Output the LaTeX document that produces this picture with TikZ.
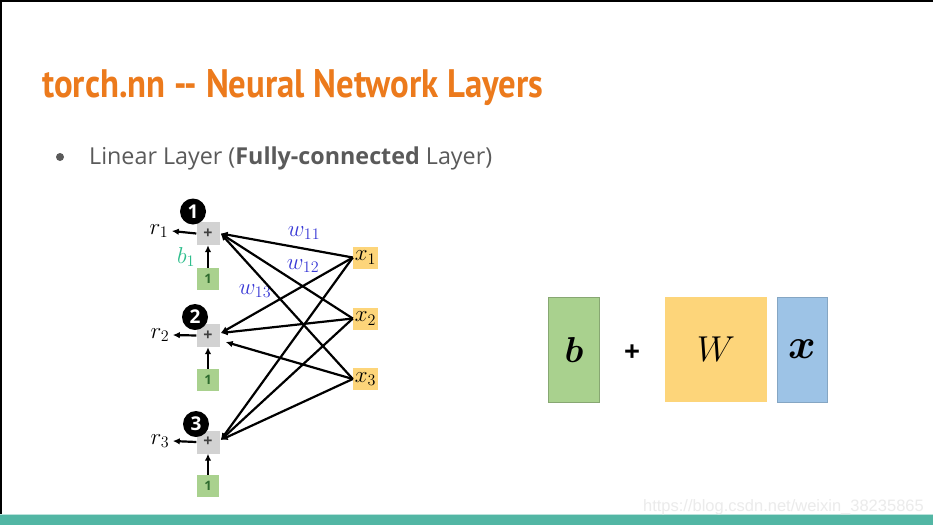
\RequirePackage{fix-cm}
\documentclass[tikz,border=0pt]{standalone}
\usepackage{amsmath}
\usepackage{bm}
\usepackage{fontspec}
\usepackage{graphicx}
\setmainfont{Open Sans}
\newfontfamily\titlefont{PT Sans}
\newfontfamily\wmfont{Liberation Sans}
\usetikzlibrary{arrows.meta}
\definecolor{titleor}{HTML}{EC7A1C}
\definecolor{bodygray}{HTML}{5A5A5A}
\definecolor{boxgray}{HTML}{D2D2D2}
\definecolor{lgreen}{HTML}{A9D18E}
\definecolor{dgreen}{HTML}{2E6B2E}
\definecolor{bgreen}{HTML}{2DBE8C}
\definecolor{lyellow}{HTML}{FDD57A}
\definecolor{lblue}{HTML}{9DC3E6}
\definecolor{wblue}{HTML}{3A3AD6}
\definecolor{tealbar}{HTML}{52B6A4}
\tikzset{
  numcirc/.style={circle,fill=black,text=white,minimum size=26pt,inner sep=0pt,font=\bfseries\fontsize{19}{19}\selectfont},
  plusbox/.style={fill=boxgray,minimum width=23pt,minimum height=23pt,inner sep=0pt,text=black!75,font=\bfseries\fontsize{16}{16}\selectfont},
  onebox/.style={fill=lgreen,minimum width=22pt,minimum height=22pt,inner sep=0pt,text=dgreen,font=\bfseries\fontsize{13}{13}\selectfont},
  xbox/.style={fill=lyellow,minimum width=25pt,minimum height=22pt,inner sep=0pt,font=\fontsize{23}{23}\selectfont},
  edge/.style={line width=2.2pt,-{Latex[length=7pt,width=6.5pt]}},
  wlab/.style={text=wblue,font=\fontsize{23}{23}\selectfont},
  rlab/.style={font=\fontsize{23}{23}\selectfont},
  bigbox/.style={minimum height=105pt,inner sep=0pt,font=\fontsize{36}{36}\selectfont}
}
\begin{document}
\begin{tikzpicture}[x=1pt,y=-1pt]
\useasboundingbox (0,0) rectangle (933,525);
\fill[white] (0,0) rectangle (933,525);
\fill[black] (0,0) rectangle (933,2);
\fill[black] (0,0) rectangle (2,525);
\fill[tealbar] (0,515) rectangle (933,525);
\fill[tealbar!40] (0,514) rectangle (933,515);

% title
\node[anchor=base west,inner sep=0pt,text=titleor] (title) at (42,97)
  {\resizebox{501pt}{28pt}{\titlefont\bfseries torch.nn -{}- Neural Network Layers}};
% bullet
\node[circle,fill=bodygray,minimum size=8pt,inner sep=0pt] (bullet) at (60,157) {};
\node[anchor=base west,inner sep=0pt,text=bodygray,font=\fontsize{23.3}{23.3}\selectfont] (bl) at (89,164)
  {Linear Layer (\textbf{Fully-connected} Layer)};

% network
\node[plusbox] (p1) at (208,233.5) {+};
\node[plusbox] (p2) at (208,335.5) {+};
\node[plusbox] (p3) at (208,442) {+};
\node[numcirc] (c1) at (193,211.5) {1};
\node[numcirc] (c2) at (195,317) {2};
\node[numcirc] (c3) at (196,424) {3};
\node[onebox] (o1) at (208,279) {1};
\node[onebox] (o2) at (208,380) {1};
\node[onebox] (o3) at (208,486) {1};
\node[rlab] (r1) at (159,231) {$r_1$};
\node[rlab] (r2) at (160,335) {$r_2$};
\node[rlab] (r3) at (160,441) {$r_3$};
\node[text=bgreen,font=\fontsize{23}{23}\selectfont] (b1) at (186,257) {$b_1$};
\node[xbox] (x1) at (365.5,257.5) {$x_1$};
\node[xbox] (x2) at (365.5,318.5) {$x_2$};
\node[xbox] (x3) at (365.5,379) {$x_3$};
\node[wlab] (w11) at (304,233) {$w_{11}$};
\node[wlab] (w12) at (303,266) {$w_{12}$};
\node[wlab] (w13) at (255,291) {$w_{13}$};

\foreach \i in {1,2,3}{
  \draw[edge] (o\i.north) -- (p\i.south);
  \draw[edge] (p\i.west) -- (r\i.east);
}
\draw[edge] (x1.west) -- ([xshift=1pt]p1.east);
\draw[edge] (x2.west) -- ([xshift=1pt]p1.east);
\draw[edge] (x3.west) -- ([xshift=1pt]p1.east);
\draw[edge] (x1.west) -- ([xshift=1pt,yshift=2.5pt]p2.east);
\draw[edge] (x2.west) -- ([xshift=1pt,yshift=2.5pt]p2.east);
\draw[edge] (x3.west) -- ([xshift=6pt,yshift=-6.5pt]p2.east);
\draw[edge] (x1.west) -- ([xshift=1pt,yshift=2pt]p3.east);
\draw[edge] (x2.west) -- ([xshift=1pt,yshift=2pt]p3.east);
\draw[edge] (x3.west) -- ([xshift=1pt,yshift=2pt]p3.east);

% right-hand equation
\node[bigbox,fill=lgreen,draw=lgreen!80!black,line width=0.4pt,minimum width=51pt] (bb) at (574,349.5) {$\bm{b}$};
\node[font=\bfseries\fontsize{28}{28}\selectfont] (plus) at (632,353) {+};
\node[bigbox,fill=lyellow,minimum width=102pt] (wb) at (716,349.5) {$W$};
\node[bigbox,fill=lblue,draw=lblue!85!black,line width=0.4pt,minimum width=50pt,font=\fontsize{42}{42}\selectfont] (xb) at (802,349.5) {$\bm{x}$};

% watermark
\node[anchor=base east,inner sep=0pt,text=black!8,font=\wmfont\fontsize{16.5}{16.5}\selectfont] (wm) at (924,511)
  {https://blog.csdn.net/weixin\_38235865};
\end{tikzpicture}
\end{document}
